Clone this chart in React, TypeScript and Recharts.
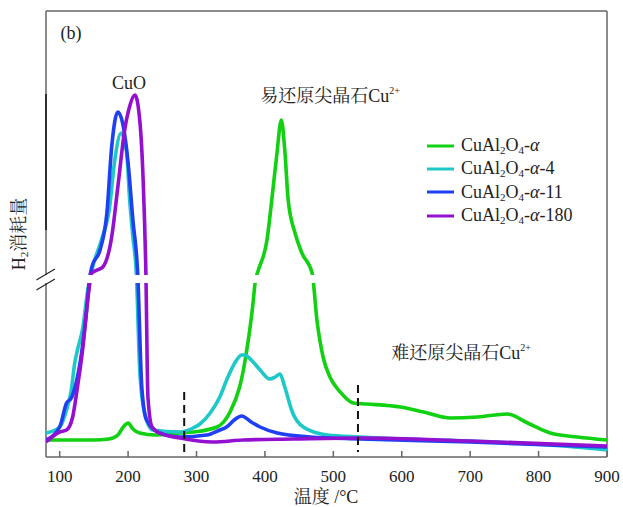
import {
  LineChart,
  Line,
  XAxis,
  YAxis,
  ReferenceLine,
  ReferenceArea,
} from "recharts";

// temperature (°C) and H2 consumption (a.u.)
const greenT = [80, 100, 150, 172, 185, 193, 200, 207, 217, 240, 276, 295, 330, 349, 363, 368, 373, 378, 382, 386, 390, 403, 410, 417, 424, 429, 434, 444, 454, 469, 476, 485, 495, 510, 529, 549, 598, 632, 671, 711, 754, 784, 817, 857, 900];
const greenV = [17, 17, 17, 18, 22, 30, 34, 28, 24, 22, 24, 25, 30, 45, 70, 85, 105, 128, 150, 176, 186, 217, 257, 300, 337, 307, 257, 224, 204, 184, 137, 100, 80, 65, 54, 53, 50, 45, 39, 40, 43, 34, 24, 20, 17];

const cyanT = [80, 100, 110, 117, 122, 126, 134, 141, 147, 161, 173, 180, 190, 198, 202, 207, 212, 217, 224, 236, 276, 295, 305, 320, 334, 344, 356, 366, 371, 380, 393, 407, 415, 422, 429, 440, 456, 491, 539, 600, 700, 817, 900];
const cyanV = [24, 30, 47, 67, 94, 107, 130, 167, 187, 217, 250, 294, 324, 304, 260, 220, 184, 87, 44, 27, 25, 29, 33, 44, 60, 77, 94, 102, 102, 97, 87, 78, 80, 83, 70, 45, 30, 22, 20, 18, 16, 12, 7];

const blueT = [80, 100, 110, 117, 124, 132, 139, 144, 147, 159, 169, 176, 185, 192, 200, 207, 214, 220, 227, 246, 276, 315, 334, 344, 355, 366, 380, 393, 418, 466, 539, 700, 900];
const blueV = [17, 30, 54, 59, 74, 104, 144, 180, 190, 207, 244, 310, 345, 334, 294, 237, 184, 70, 37, 24, 20, 22, 27, 30, 37, 41, 35, 30, 24, 20, 18, 15, 10];

const purpleT = [80, 100, 110, 119, 126, 134, 141, 147, 155, 163, 176, 185, 195, 202, 210, 217, 222, 226, 229, 235, 246, 276, 324, 368, 441, 539, 700, 900];
const purpleV = [15, 25, 27, 40, 70, 110, 157, 184, 187, 190, 220, 270, 327, 350, 362, 337, 277, 184, 60, 30, 24, 19, 15, 17, 18, 19, 16, 11];

const xTicks = [100, 200, 300, 400, 500, 600, 700, 800, 900];

const zip = (t: number[], v: number[]) => t.map((x, i) => ({ t: x, v: v[i] }));

const series = [
  { suffix: "", color: "#12d012", data: zip(greenT, greenV) },
  { suffix: "-4", color: "#1ec8c8", data: zip(cyanT, cyanV) },
  { suffix: "-11", color: "#1f3ff2", data: zip(blueT, blueV) },
  { suffix: "-180", color: "#9410d0", data: zip(purpleT, purpleV) },
];

const FONT = "'Liberation Serif', 'Noto Serif CJK SC', 'Noto Sans CJK SC', serif";
const AXIS = "#666";

// let the figure use the whole 623x507 page instead of the body's content box
if (typeof document !== "undefined") {
  document.documentElement.style.overflow = "hidden";
  document.body.style.overflow = "hidden";
  document.body.style.margin = "0";
}

const XTick = (props: any) => {
  const { x, y, payload } = props;
  return (
    <g>
      <line x1={x} x2={x} y1={y} y2={y - 6} stroke={AXIS} strokeWidth={1.5} />
      <text x={x} y={y + 25} textAnchor="middle" fontSize={17} fill="#222" fontFamily={FONT}>
        {payload.value}
      </text>
    </g>
  );
};

const Formula = ({ suffix }: { suffix: string }) => (
  <span>
    CuAl<sub style={{ fontSize: 11, verticalAlign: -3 }}>2</sub>O
    <sub style={{ fontSize: 11, verticalAlign: -3 }}>4</sub>-<i>α</i>
    {suffix}
  </span>
);

const txt = (x: number, y: number, size: number): any => ({
  position: "absolute",
  left: x,
  top: y,
  transform: "translate(-50%, -50%)",
  fontFamily: FONT,
  fontSize: size,
  color: "#222",
  whiteSpace: "nowrap",
  lineHeight: 1,
});

export default function App() {
  return (
    <div style={{ position: "relative", width: 623, height: 507, overflow: "hidden", background: "#fff" }}>
      <div style={{ position: "absolute", left: 8, top: 8, width: 615, height: 499 }}>
        <LineChart
          width={615}
          height={491}
          margin={{ top: 3, right: 16, bottom: 0, left: 38 }}
          style={{ overflow: "visible" }}
        >
          <XAxis
            dataKey="t"
            type="number"
            domain={[80, 900]}
            ticks={xTicks}
            allowDataOverflow
            height={42}
            tickSize={0}
            tickMargin={0}
            tickLine={false}
            tick={<XTick />}
            axisLine={{ stroke: AXIS, strokeWidth: 1.5 }}
          />
          <YAxis
            type="number"
            domain={[0, 446]}
            allowDataOverflow
            width={0}
            tick={false}
            tickLine={false}
            axisLine={{ stroke: AXIS, strokeWidth: 1.5 }}
          />
          <ReferenceLine y={446} stroke={AXIS} strokeWidth={1.5} />
          <ReferenceLine x={900} stroke={AXIS} strokeWidth={1.5} />
          <ReferenceLine x={80} stroke={AXIS} strokeWidth={1.5} />
          <ReferenceLine
            segment={[{ x: 80, y: 227 }, { x: 80, y: 363 }]}
            stroke="#111"
            strokeWidth={1.5}
          />
          {series.map((s) => (
            <Line
              key={s.color}
              data={s.data}
              dataKey="v"
              type="monotone"
              stroke={s.color}
              strokeWidth={3.6}
              dot={false}
              activeDot={false}
              isAnimationActive={false}
            />
          ))}
          {/* axis break */}
          <ReferenceArea
            x1={77}
            x2={898}
            y1={174}
            y2={182}
            fill="#fff"
            fillOpacity={1}
            stroke="none"
            ifOverflow="visible"
            zIndex={1500}
          />
          <ReferenceLine
            segment={[{ x: 66, y: 177 }, { x: 93, y: 188 }]}
            stroke="#222"
            strokeWidth={1.2}
            ifOverflow="visible"
            zIndex={1600}
          />
          <ReferenceLine
            segment={[{ x: 66, y: 167 }, { x: 93, y: 178 }]}
            stroke="#222"
            strokeWidth={1.2}
            ifOverflow="visible"
            zIndex={1600}
          />
          <ReferenceLine
            segment={[{ x: 282, y: 65 }, { x: 282, y: 4 }]}
            stroke="#111"
            strokeWidth={2}
            strokeDasharray="8 5"
            zIndex={1600}
          />
          <ReferenceLine
            segment={[{ x: 536, y: 72 }, { x: 536, y: 5 }]}
            stroke="#111"
            strokeWidth={2}
            strokeDasharray="8 5"
            zIndex={1600}
          />
        </LineChart>
        <div
          style={{
            position: "absolute",
            left: 419,
            top: 126,
            fontFamily: FONT,
            fontSize: 18,
            color: "#222",
          }}
        >
          {series.map((s) => (
            <div key={s.color} style={{ display: "flex", alignItems: "center", height: 23.3, whiteSpace: "nowrap" }}>
              <svg width={34} height={6}>
                <line x1={0} x2={27} y1={3} y2={3} stroke={s.color} strokeWidth={3} />
              </svg>
              <Formula suffix={s.suffix} />
            </div>
          ))}
        </div>
        <div style={txt(63, 25, 18)}>(b)</div>
        <div style={txt(121, 75, 18)}>CuO</div>
        <div style={txt(322, 87, 18)}>
          易还原尖晶石Cu<sup style={{ fontSize: 10, verticalAlign: 8 }}>2+</sup>
        </div>
        <div style={txt(453, 344, 18)}>
          难还原尖晶石Cu<sup style={{ fontSize: 10, verticalAlign: 8 }}>2+</sup>
        </div>
        <div style={txt(318, 489, 18)}>温度 /°C</div>
        <div style={{ ...txt(12, 226, 18), transform: "translate(-50%, -50%) rotate(-90deg)" }}>
          H<sub style={{ fontSize: 11, verticalAlign: -3 }}>2</sub>消耗量
        </div>
      </div>
    </div>
  );
}
